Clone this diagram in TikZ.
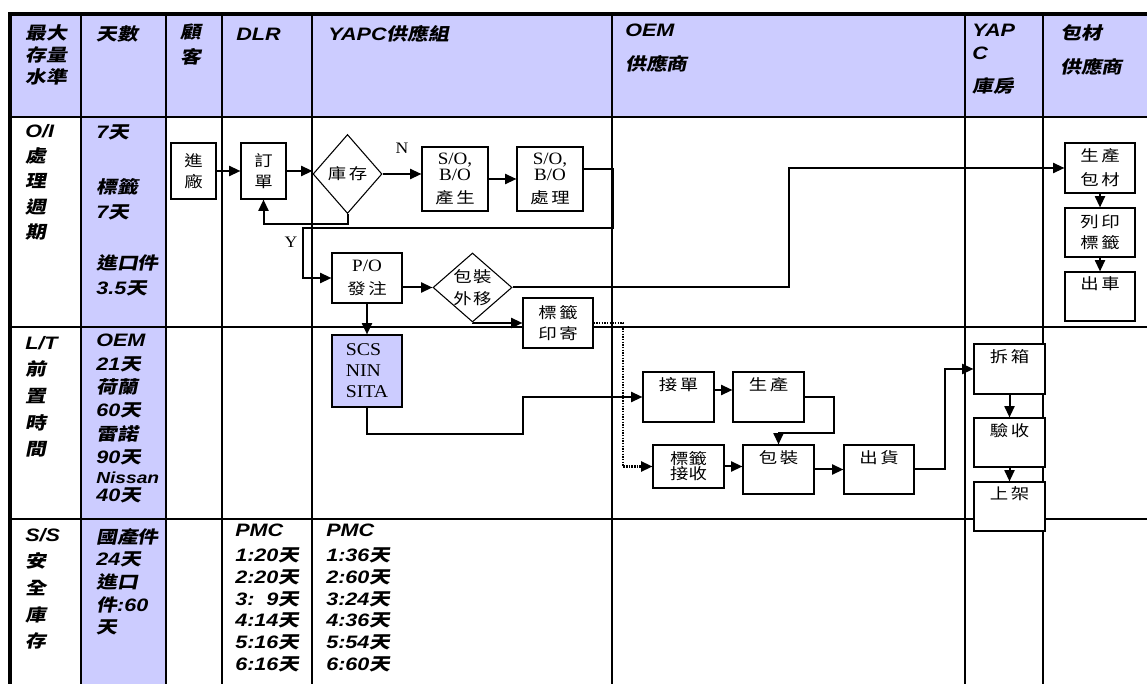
\documentclass[tikz,border=0pt]{standalone}
\usepackage{fontspec}
\usetikzlibrary{arrows.meta,shapes.geometric,calc}
\newfontfamily\hlat[FakeStretch=1.2]{Liberation Sans}
\newfontfamily\hcjk[FakeStretch=1.2,FakeSlant=0.2]{Noto Sans CJK TC}
\newfontfamily\bcjk[FakeStretch=1.2]{Noto Sans CJK TC}
\newfontfamily\bser[FakeStretch=1.1]{Liberation Serif}
\definecolor{lav}{HTML}{CCCCFF}
\newcommand\zh[1]{{\fontsize{13}{13}\hcjk\bfseries #1}}
\newcommand\tm[1]{{\fontsize{13}{13}\bser #1}}
\newcommand\mybox[7][]{%
  \pgfmathsetmacro\bw{(#5-#3)*0.75}%
  \pgfmathsetmacro\bh{(#6-#4)*0.75}%
  \node[box,minimum width=\bw pt,minimum height=\bh pt,#1] (#2) at ({(#3+#5)/2},{(#4+#6)/2}) {#7};}
\tikzset{
  grid/.style={line width=1.1pt},
  outer/.style={line width=2.4pt},
  hd/.style={anchor=north west,yshift=12pt,inner sep=0pt,align=left,
    execute at begin node={\rule{0pt}{12pt}},
    font=\fontsize{13.5}{#1}\hlat\bfseries\itshape},
  hd/.default=19,
  box/.style={draw,line width=0.8pt,fill=white,inner sep=0pt,align=center,font=\fontsize{11.5}{16}\bcjk},
  dia/.style={diamond,aspect=1,draw,line width=0.8pt,fill=white,inner sep=0pt,align=center,font=\fontsize{11.5}{16}\bcjk},
  toptext/.style={label={[anchor=north,inner sep=0pt,yshift=-4pt,font=\fontsize{11.5}{16}\bcjk]north:#1}},
  arr/.style={line width=1.5pt,-{Triangle[length=8.5pt,width=7.5pt]}},
  dots/.style={line width=1.6pt,dash pattern=on 1.1pt off 0.9pt,-{Triangle[length=8.5pt,width=7.5pt]}},
  lbl/.style={inner sep=0pt,font=\fontsize{12}{12}\bser},
}
\begin{document}
\begin{tikzpicture}[x=0.75pt,y=-0.75pt]
\useasboundingbox (0,0) rectangle (1147,684);
% table
\fill[lav] (10,14) rectangle (1147,117);
\fill[lav] (81,117) rectangle (166,684);
\foreach \y in {117,327,519} \draw[grid] (10,\y) -- (1147,\y);
\foreach \x in {81,166,222,312,612,965,1043} \draw[grid] (\x,14) -- (\x,684);
\draw[outer] (10,684) -- (10,14) -- (1147,14);
% headers
\node[hd=16.5] (h1) at (25,40) {\zh{最大}\\\zh{存量}\\\zh{水準}};
\node[hd] (h2) at (96,40) {\zh{天數}};
\node[hd=18.75] (h3) at (180,40) {\zh{顧}\\\zh{客}};
\node[hd] (h4) at (236,40) {DLR};
\node[hd] (h5) at (328,40) {YAPC\zh{供應組}};
\node[hd=25.5] (h6) at (625,40) {OEM\\\zh{供應商}};
\node[hd=17.25] (h7) at (972,40) {YAP\\C\\[7.5pt]\zh{庫房}};
\node[hd=25.5] (h8) at (1060,40) {\zh{包材}\\\zh{供應商}};
% row 1
\node[hd=19] (r1) at (25,140) {O/I\\\zh{處}\\\zh{理}\\\zh{週}\\\zh{期}};
\node[hd=18.75] (d1) at (96,140) {7\zh{天}\\[22.5pt]\zh{標籤}\\7\zh{天}\\[20pt]\zh{進口件}\\3.5\zh{天}};
% row 2
\node[hd=20] (r2) at (25,352) {L/T\\\zh{前}\\\zh{置}\\\zh{時}\\\zh{間}};
\node[hd=17.5] (d2) at (96,350) {OEM\\21\zh{天}\\\zh{荷蘭}\\60\zh{天}\\\zh{雷諾}\\90\zh{天}\\[-2.5pt]{\fontsize{12}{12}\selectfont Nissan}\\[-4pt]40\zh{天}};
% row 3
\node[hd=20] (r3) at (25,544) {S/S\\\zh{安}\\\zh{全}\\\zh{庫}\\\zh{存}};
\node[hd=17] (d3) at (96,544) {\zh{國產件}\\24\zh{天}\\\zh{進口}\\\zh{件}:60\\\zh{天}};
\node[hd=16.25] (p1) at (235,540) {PMC\\[2.5pt]1:20\zh{天}\\2:20\zh{天}\\3:\ \ 9\zh{天}\\4:14\zh{天}\\5:16\zh{天}\\6:16\zh{天}};
\node[hd=16.25] (p2) at (326,540) {PMC\\[2.5pt]1:36\zh{天}\\2:60\zh{天}\\3:24\zh{天}\\4:36\zh{天}\\5:54\zh{天}\\6:60\zh{天}};
% boxes
\mybox{jc}{171}{143}{216}{199}{進\\廠}
\mybox{dd}{241}{143}{286}{199}{訂\\單}
\node[dia,minimum width=51.75pt,minimum height=59.25pt] (kc) at (347.5,174) {庫\hspace{2pt}存};
\mybox{sp}{422}{147}{488}{211}{\tm{S/O,}\\[-4pt]\tm{B/O}\\[1pt]產\hspace{2pt}生}
\mybox{sc}{517}{147}{583}{211}{\tm{S/O,}\\[-4pt]\tm{B/O}\\[1pt]處\hspace{2pt}理}
\mybox{po}{332}{253}{402}{303}{\tm{P/O}\\[1pt]發\hspace{2pt}注}
\node[dia,minimum width=59.25pt,minimum height=51.75pt,label={[inner sep=0pt,align=center,font=\fontsize{11.5}{16}\bcjk]center:包\hspace{1pt}裝\\外\hspace{1pt}移}] (pk) at (472.5,287.5) {};
\mybox{lb}{523}{298}{593}{348}{標\hspace{2pt}籤\\印\hspace{2pt}寄}
\mybox[fill=lav,align=left,font=\fontsize{13.5}{15.75}\bser]{scs}{332}{335}{402}{407}{SCS\\NIN\\SITA}
\mybox[toptext=接\hspace{2pt}單]{jd}{643}{372}{714}{422}{}
\mybox[toptext=生\hspace{2pt}產]{sc2}{733}{372}{804}{422}{}
\mybox{lr}{653}{445}{724}{488}{標籤\\[-4.75pt]接收}
\mybox[toptext=包\hspace{2pt}裝]{bz}{743}{445}{814}{494}{}
\mybox[toptext=出\hspace{2pt}貨]{ch}{844}{445}{914}{494}{}
\mybox[toptext=拆\hspace{2pt}箱]{cx}{974}{344}{1045}{394}{}
\mybox[toptext=驗\hspace{2pt}收]{ys}{974}{418}{1045}{467}{}
\mybox[toptext=上\hspace{2pt}架]{sj}{974}{482}{1045}{531}{}
\mybox{bm}{1065}{143}{1135}{193}{生\hspace{2pt}產\\[2pt]包\hspace{2pt}材}
\mybox{dy}{1065}{208}{1135}{257}{列\hspace{2pt}印\\標\hspace{2pt}籤}
\mybox[toptext=出\hspace{2pt}車]{cc}{1065}{272}{1135}{321}{}
% labels
\node[lbl] (nl) at (402,148) {N};
\node[lbl] (yl) at (291,242) {Y};
% connectors
\draw[arr] (jc.east) -- (dd.west);
\draw[arr] (dd.east) -- (dd.east -| kc.west);
\draw[arr] (kc.east) -- (kc.east -| sp.west);
\draw[arr] (sp.east) -- (sc.west);
\draw[arr] (kc.south) -- ++(0,10) -| (dd.south);
\coordinate (a1) at (613,169);
\coordinate (a2) at (613,228);
\coordinate (a3) at (303,228);
\draw[arr] (sc.east |- a1) -- (a1) -- (a2) -- (a3) |- (po.west);
\draw[arr] (po.east |- pk.west) -- (pk.west);
\coordinate (b1) at (789,287.5);
\draw[arr] (pk.east) -- (b1) |- (bm.west);
\draw[arr] (pk.south) |- (lb.west);
\coordinate (c1) at (623,0);
\draw[dots] (lb.east) -- (lb.east -| c1) |- (lr.west);
\draw[arr] (po.south) -- (scs.north);
\coordinate (e1) at (523,434);
\draw[arr] (scs.south) |- (e1) |- (jd.west);
\coordinate (j1) at ($(jd.east)+(0,-7)$);
\draw[arr] (j1) -- (j1 -| sc2.west);
\coordinate (f1) at (834,433);
\draw[arr] (sc2.east) -| (f1) -| (bz.north);
\draw[arr] (lr.east) -- (lr.east -| bz.west);
\draw[arr] (bz.east) -- (ch.west);
\coordinate (g1) at (945,469.5);
\draw[arr] (ch.east) -- (g1) |- (cx.west);
\draw[arr] (cx.south) -- (ys.north);
\draw[arr] (ys.south) -- (sj.north);
\draw[arr] (bm.south) -- (dy.north);
\draw[arr] (dy.south) -- (cc.north);
\end{tikzpicture}
\end{document}
